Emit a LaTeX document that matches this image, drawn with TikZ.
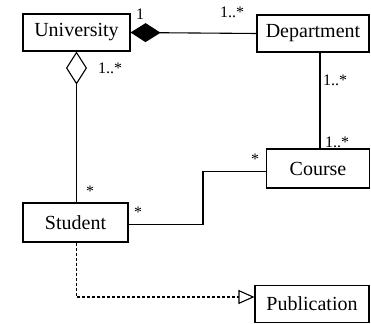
\documentclass[tikz,border=0pt]{standalone}
\usepackage{fontspec}
\setmainfont{Liberation Serif}
\usetikzlibrary{arrows.meta}

\tikzset{
  umlclass/.style={draw, line width=1.1pt, inner sep=0pt, font=\fontsize{20}{24}\selectfont},
  mult/.style={font=\fontsize{16}{18}\selectfont, inner sep=1pt},
  assoc/.style={line width=1.1pt}
}

\begin{document}
\begin{tikzpicture}[x=1pt,y=1pt]
  \useasboundingbox (0,0) rectangle (371,323);

  % the classes
  \node[umlclass, minimum width=107pt, minimum height=37pt] (University)  at (76.5, 290.5) {University};
  \node[umlclass, minimum width=112pt, minimum height=37pt] (Department)  at (313, 289.5) {Department};
  \node[umlclass, minimum width=103pt, minimum height=39pt] (Course)      at (318, 154.5) {Course};
  \node[umlclass, minimum width=105pt, minimum height=39pt] (Student)     at (75.5, 100.5) {Student};
  \node[umlclass, minimum width=114pt, minimum height=37pt] (Publication) at (312, 19) {Publication};

  % composition and aggregation
  \draw[assoc, {Diamond[length=30pt, width=19pt]}-] (University.east) -- (Department.west);
  \draw[assoc, {Diamond[open, length=33pt, width=21pt]}-] (University.south) -- (University.south |- Student.north);

  % plain associations
  \draw[assoc] ([xshift=7pt]Department.south) -- ([xshift=7pt]Department.south |- Course.north);
  \coordinate (bend) at (203, 0);
  \draw[assoc] ([yshift=-3pt]Course.west) -- ([yshift=-3pt]Course.west -| bend)
    -- ([yshift=-2pt]bend |- Student.east) -- ([yshift=-2pt]Student.east);

  % dependency
  \coordinate (corner) at ([xshift=1pt]Student.south |- 0, 26);
  \draw[assoc, dash pattern=on 3pt off 2pt, -{Triangle[open, length=16pt, width=14pt]}] ([xshift=1pt]Student.south) -- (corner) -- (corner -| Publication.west);

  % multiplicities
  \node[mult] at (140, 309) {1};
  \node[mult] at (232, 311) {1..*};
  \node[mult] at (110, 255) {1..*};
  \node[mult] at (335, 243) {1..*};
  \node[mult] at (337, 181) {1..*};
  \node[mult] at (255, 164) {*};
  \node[mult] at (90, 132) {*};
  \node[mult] at (138, 111) {*};
\end{tikzpicture}
\end{document}
